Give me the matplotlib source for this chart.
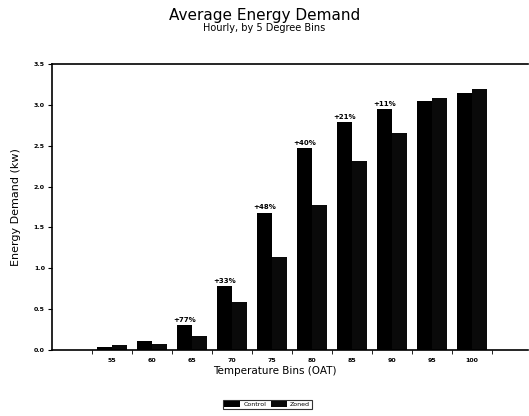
import numpy as np
import matplotlib
matplotlib.use("Agg")
import matplotlib.pyplot as plt

# data
bins = ["55", "60", "65", "70", "75", "80", "85", "90", "95", "100"]
control = [0.03, 0.11, 0.30, 0.78, 1.68, 2.47, 2.79, 2.95, 3.05, 3.15]
zoned = [0.06, 0.07, 0.17, 0.59, 1.14, 1.77, 2.31, 2.66, 3.09, 3.19]
pct_labels = ["", "", "+77%", "+33%", "+48%", "+40%", "+21%", "+11%", "", ""]
yticks = [0.0, 0.5, 1.0, 1.5, 2.0, 2.5, 3.0, 3.5]

fig = plt.figure(figsize=(5.29, 4.16), dpi=100)
ax = fig.add_axes([0.098, 0.159, 0.90, 0.687])

x = np.arange(len(bins))
w = 0.375
ax.bar(x - w / 2, control, w, color="black", label="Control")
ax.bar(x + w / 2, zoned, w, color="#0a0a0a", label="Zoned")

for xi, v, lab in zip(x, control, pct_labels):
    if lab:
        ax.text(xi - w / 2, v + 0.03, lab, ha="center", va="bottom",
                fontsize=5, fontweight="bold")

ax.set_xlim(-1.5, 10.4)
ax.set_ylim(0, 3.5)
ax.set_yticks(yticks)
ax.set_yticklabels(["%.1f" % t for t in yticks], fontsize=4.5, fontweight="bold")
ax.set_xticks(x)
ax.set_xticklabels(bins, fontsize=4.5, fontweight="bold")
ax.set_xticks(np.arange(-0.5, len(bins)), minor=True)
ax.tick_params(axis="x", which="major", length=0, pad=6)
ax.tick_params(axis="x", which="minor", length=3, direction="out")
ax.tick_params(axis="y", length=3, direction="out", pad=2)
for s in ax.spines.values():
    s.set_linewidth(1.2)
ax.spines["right"].set_visible(False)

ax.set_xlabel("Temperature Bins (OAT)", fontsize=7.5, labelpad=3)
ax.xaxis.set_label_coords(0.468, -0.058)
ax.set_ylabel("Energy Demand (kw)", fontsize=8, labelpad=9)

fig.text(0.5, 0.963, "Average Energy Demand", ha="center", va="center", fontsize=11)
fig.text(0.5, 0.933, "Hourly, by 5 Degree Bins", ha="center", va="center", fontsize=7)

leg = fig.legend(loc="center", bbox_to_anchor=(0.505, 0.028), ncol=2, fontsize=4.5,
                 frameon=True, fancybox=False, edgecolor="black",
                 handlelength=2.5, handleheight=1.0, columnspacing=0.8,
                 handletextpad=0.5, borderpad=0.3)
leg.get_frame().set_linewidth(0.8)

fig.savefig("out.png", dpi=100)
